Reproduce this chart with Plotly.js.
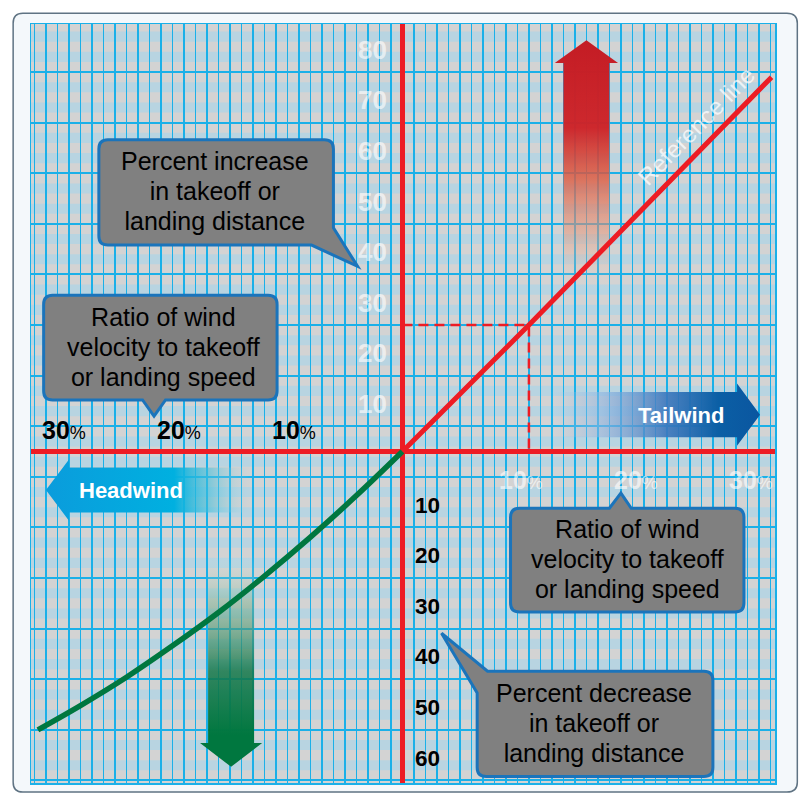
<!DOCTYPE html>
<html>
<head>
<meta charset="utf-8">
<script src="https://cdn.plot.ly/plotly-3.0.1.min.js"></script>
<style>
  html, body { margin: 0; padding: 0; background: #ffffff; }
  #chart { width: 810px; height: 805px; }
</style>
</head>
<body>
<div id="chart"></div>
<script>
/* values */
const tailwindRatio = [0, 11, 32.1];          // % wind / takeoff speed
const tailwindIncrease = [0, 25, 74];         // % increase in distance
const headwindRatio = [0, -4, -8, -12, -16, -20, -24, -28, -31.7];
const headwindDecrease = [0, -8.7, -16.9, -24.6, -31.8, -38.4, -44.6, -50.2, -55];
const exampleRatio = 11;
const exampleIncrease = 25;

const yTicksUp = [10, 20, 30, 40, 50, 60, 70, 80];
const yTicksDown = [10, 20, 30, 40, 50, 60];
const xTicksLeft = [10, 20, 30];
const xTicksRight = [10, 20, 30];

const X_RANGE = [-32.3, 32.4];
const Y_RANGE = [-65.5, 84.5];
const M = { l: 31, r: 35, t: 24, b: 22 };
const PLOT_W = 810 - M.l - M.r;
const PLOT_H = 805 - M.t - M.b;
const PX = PLOT_W / (X_RANGE[1] - X_RANGE[0]);   // px per x unit
const PY = PLOT_H / (Y_RANGE[1] - Y_RANGE[0]);   // px per y unit

const RED = "#ed1c24";
const GREEN = "#00773f";
const GRID = "#1ab0e8";
const FONT = "Liberation Sans, Arial, sans-serif";

function pt(x, y) {
    return x.toFixed(3) + "," + y.toFixed(3);
}

/* rounded box with a pointer, in data units */
function calloutPath(c) {
    const rx = 9 / PX, ry = 9 / PY;
    const [x0, x1, y0, y1] = c.box;
    const t = c.tail, side = c.side;
    const line = (q) => "L" + pt(q[0], q[1]);
    let d = side === "tl" ? "M" + pt(t[2][0], t[2][1]) : "M" + pt(x0 + rx, y1);
    if (side === "top") d += t.map(line).join("");
    d += line([x1 - rx, y1]) + "Q" + pt(x1, y1) + " " + pt(x1, y1 - ry);
    if (side === "br") d += t.map(line).join("");
    else d += line([x1, y0 + ry]) + "Q" + pt(x1, y0) + " " + pt(x1 - rx, y0);
    if (side === "bottom") d += t.map(line).join("");
    d += line([x0 + rx, y0]) + "Q" + pt(x0, y0) + " " + pt(x0, y0 + ry);
    if (side === "tl") d += line(t[0]) + line(t[1]);
    else d += line([x0, y1 - ry]) + "Q" + pt(x0, y1) + " " + pt(x0 + rx, y1);
    return d + "Z";
}

const callouts = [
    { box: [-26.4, -6.0, 40.8, 61.6], side: "br",
      tail: [[-6.0, 44.2], [-3.9, 36.6], [-7.9, 40.8]],
      cx: -16.3, cy: 51.4, lines: ["Percent increase", "in takeoff or", "landing distance"] },
    { box: [-31.2, -10.9, 10.2, 30.9], side: "bottom",
      tail: [[-20.6, 10.2], [-21.6, 7.0], [-22.6, 10.2]],
      cx: -20.8, cy: 20.6, lines: ["Ratio of wind", "velocity to takeoff", "or landing speed"] },
    { box: [9.4, 29.7, -31.7, -11.2], side: "top",
      tail: [[18.0, -11.2], [19.0, -8.2], [19.9, -11.2]],
      cx: 19.6, cy: -21.2, lines: ["Ratio of wind", "velocity to takeoff", "or landing speed"] },
    { box: [6.5, 27.0, -64.2, -43.4], side: "tl",
      tail: [[6.5, -47.7], [3.4, -35.9], [7.4, -43.4]],
      cx: 16.7, cy: -53.6, lines: ["Percent decrease", "in takeoff or", "landing distance"] },
];

function arrowV(cx, hw, headW, yEnd, yBase, yTip) {
    return {
        x: [cx - hw, cx - hw, cx - headW, cx, cx + headW, cx + hw, cx + hw, cx - hw],
        y: [yEnd, yBase, yBase, yTip, yBase, yBase, yEnd, yEnd],
    };
}
function arrowH(cy, hh, headH, xEnd, xBase, xTip) {
    return {
        x: [xEnd, xBase, xBase, xTip, xBase, xBase, xEnd, xEnd],
        y: [cy + hh, cy + hh, cy + headH, cy, cy - headH, cy - hh, cy - hh, cy + hh],
    };
}
function gradientTrace(poly, type, colorscale) {
    return {
        x: poly.x, y: poly.y, type: "scatter", mode: "lines",
        line: { width: 0, color: "rgba(0,0,0,0)" },
        fill: "toself",
        fillgradient: { type: type, colorscale: colorscale },
        hoverinfo: "skip",
    };
}

const upArrow = gradientTrace(arrowV(16.0, 2.0, 2.75, 31.9, 76.8, 81.3), "vertical", [
    [0, "rgba(240,210,190,0)"],
    [0.22, "rgba(232,150,120,0.5)"],
    [0.45, "rgba(220,90,65,0.82)"],
    [0.65, "rgba(205,35,40,0.97)"],
    [1, "rgba(196,28,36,1)"],
]);
const downArrow = gradientTrace(arrowV(-14.9, 2.0, 2.7, -20.4, -57.6, -62.3), "vertical", [
    [0, GREEN],
    [0.15, GREEN],
    [0.45, "rgba(20,120,75,0.85)"],
    [0.78, "rgba(120,175,140,0.45)"],
    [1, "rgba(210,235,220,0)"],
]);
const headArrow = gradientTrace(arrowH(-7.6, 4.45, 6.05, -13.0, -29.0, -31.0), "horizontal", [
    [0, "#0a9cdc"],
    [0.62, "#00b0e0"],
    [0.78, "rgba(60,190,220,0.6)"],
    [1, "rgba(180,215,225,0)"],
]);
const tailArrow = gradientTrace(arrowH(7.3, 4.45, 6.15, 12.9, 29.1, 31.1), "horizontal", [
    [0, "rgba(170,200,230,0)"],
    [0.25, "rgba(140,180,225,0.6)"],
    [0.55, "rgba(60,120,190,0.9)"],
    [0.8, "#0b5fa5"],
    [1, "#0a56a0"],
]);

const dashed = {
    x: [0, exampleRatio, exampleRatio],
    y: [exampleIncrease, exampleIncrease, 0],
    type: "scatter", mode: "lines",
    line: { color: RED, width: 2.5, dash: "10px,6px" },
    hoverinfo: "skip",
};
const refLine = {
    x: tailwindRatio, y: tailwindIncrease,
    type: "scatter", mode: "lines",
    line: { color: RED, width: 5 },
    hoverinfo: "skip",
};
const headCurve = {
    x: headwindRatio, y: headwindDecrease,
    type: "scatter", mode: "lines",
    line: { color: GREEN, width: 5.5, shape: "spline" },
    hoverinfo: "skip",
};

const data = [upArrow, downArrow, headArrow, tailArrow, dashed, refLine, headCurve];

/* background: frame, grey plot area and light-blue bands */
const shapes = [];
const fx = (px) => (px - M.l) / PLOT_W;
const fy = (py) => (805 - M.b - py) / PLOT_H;
(function frame() {
    const x0 = fx(13), x1 = fx(797), y0 = fy(792), y1 = fy(13);
    const rx = 10 / PLOT_W, ry = 10 / PLOT_H;
    const d = "M" + pt(x0 + rx, y1) + "L" + pt(x1 - rx, y1) + "Q" + pt(x1, y1) + " " + pt(x1, y1 - ry) +
        "L" + pt(x1, y0 + ry) + "Q" + pt(x1, y0) + " " + pt(x1 - rx, y0) +
        "L" + pt(x0 + rx, y0) + "Q" + pt(x0, y0) + " " + pt(x0, y0 + ry) +
        "L" + pt(x0, y1 - ry) + "Q" + pt(x0, y1) + " " + pt(x0 + rx, y1) + "Z";
    shapes.push({ type: "path", xref: "paper", yref: "paper", path: d, layer: "below",
        fillcolor: "#f4f8fb", line: { color: "#5f7383", width: 1.5 } });
})();
shapes.push({ type: "rect", xref: "paper", yref: "paper", x0: 0, x1: 1, y0: 0, y1: 1,
    layer: "below", fillcolor: "#d3d3d3", line: { width: 0 } });
for (let b = -65; b < 85; b += 10) {
    [2, 6].forEach((o) => {
        shapes.push({ type: "rect", xref: "paper", yref: "y", x0: 0, x1: 1,
            y0: Math.max(b + o, Y_RANGE[0]), y1: Math.min(b + o + 2, Y_RANGE[1]),
            layer: "below", fillcolor: "#b8d4e1", line: { width: 0 } });
    });
}
callouts.forEach((c) => {
    shapes.push({ type: "path", xref: "x", yref: "y", path: calloutPath(c), layer: "above",
        fillcolor: "#808080", line: { color: "#1b74bb", width: 3 } });
});

/* text */
const annotations = [];
const WHITE = "rgba(255,255,255,0.62)";
yTicksUp.forEach((v) => annotations.push({
    x: 0, y: v, xref: "x", yref: "y", xanchor: "right", yanchor: "middle", xshift: -13, yshift: -3,
    text: "<b>" + v + "</b>", showarrow: false, font: { family: FONT, size: 26, color: WHITE },
}));
yTicksDown.forEach((v) => annotations.push({
    x: 0, y: -v, xref: "x", yref: "y", xanchor: "left", yanchor: "middle", xshift: 11, yshift: -3,
    text: "<b>" + v + "</b>", showarrow: false, font: { family: FONT, size: 22.5, color: "#000000" },
}));
xTicksLeft.forEach((v) => annotations.push({
    x: -v, y: 0, xref: "x", yref: "y", xanchor: "center", yanchor: "middle", xshift: 7, yshift: 22,
    text: "<b>" + v + "</b><span style='font-size:18px'>%</span>", showarrow: false,
    font: { family: FONT, size: 25, color: "#000000" },
}));
xTicksRight.forEach((v) => annotations.push({
    x: v, y: 0, xref: "x", yref: "y", xanchor: "center", yanchor: "middle", xshift: 4, yshift: -28,
    text: "<b>" + v + "</b><span style='font-size:18px'>%</span>", showarrow: false,
    font: { family: FONT, size: 25, color: WHITE },
}));
/* line spacing follows the base size (1.3em), glyphs are drawn a bit larger */
callouts.forEach((c) => {
    annotations.push({
        x: c.cx, y: c.cy, xref: "x", yref: "y", xanchor: "center", yanchor: "middle",
        text: c.lines.map((s) => "<span style='font-size:25px'>" + s + "</span>").join("<br>"),
        showarrow: false, align: "center",
        font: { family: FONT, size: 23.2, color: "#000000" },
    });
});
annotations.push({
    x: -23.6, y: -7.6, xref: "x", yref: "y", text: "<b>Headwind</b>", showarrow: false,
    font: { family: FONT, size: 22, color: "#ffffff" },
});
annotations.push({
    x: 24.2, y: 7.2, xref: "x", yref: "y", text: "<b>Tailwind</b>", showarrow: false,
    font: { family: FONT, size: 22, color: "#ffffff" },
});
annotations.push({
    x: 25.6, y: 64.4, xref: "x", yref: "y", text: "Reference line", textangle: -45.4,
    showarrow: false, font: { family: FONT, size: 24, color: "rgba(255,255,255,0.72)" },
});

const axisCommon = {
    showticklabels: false, ticks: "", gridcolor: GRID,
    zeroline: true, zerolinecolor: RED, zerolinewidth: 5.5,
    showline: true, mirror: true, linecolor: GRID, linewidth: 1.5,
    fixedrange: true,
};
const layout = {
    width: 810, height: 805,
    margin: M,
    paper_bgcolor: "#ffffff",
    plot_bgcolor: "rgba(0,0,0,0)",
    showlegend: false,
    xaxis: Object.assign({}, axisCommon, { range: X_RANGE, tick0: 0, dtick: 1, gridwidth: 1.5 }),
    yaxis: Object.assign({}, axisCommon, { range: Y_RANGE, tick0: 5, dtick: 10, gridwidth: 2 }),
    shapes: shapes,
    annotations: annotations,
};

Plotly.newPlot("chart", data, layout, { staticPlot: true, displayModeBar: false });
</script>
</body>
</html>
